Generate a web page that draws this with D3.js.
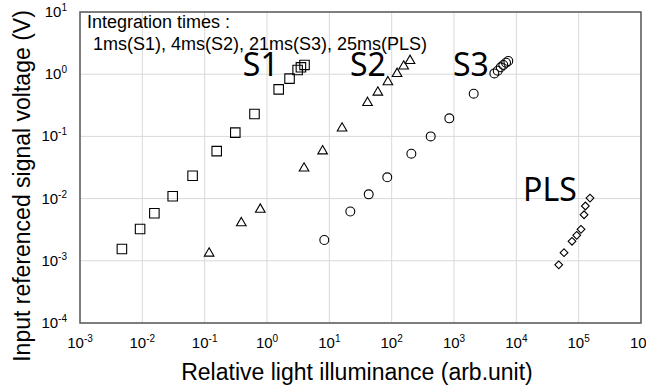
<!DOCTYPE html>
<html lang="en">
<head>
    <meta charset="utf-8">
    <title>Input referenced signal voltage vs illuminance</title>
    <script src="https://d3js.org/d3.v7.min.js"></script>
    <style>
        body { margin: 0; background: #fff; }
        text { font-family: "Liberation Sans", Arial, sans-serif; fill: #000; }
        .grid line { stroke: #d9d9d9; stroke-width: 1; }
        .frame { fill: none; stroke: #595959; stroke-width: 1.5; }
        .mark { fill: none; stroke: #000; stroke-width: 1.1; }
        .big { font-family: "Noto Sans", "Open Sans", sans-serif; font-size: 32px; }
    </style>
</head>
<body>
    <script>
        // illuminance (x) and signal voltage (y)
        var s1X = [0.0047, 0.0092, 0.0156, 0.0307, 0.064, 0.156, 0.31, 0.63, 1.54, 2.3, 3.1, 3.5, 4.0];
        var s1Y = [0.00155, 0.00324, 0.0058, 0.0109, 0.0233, 0.058, 0.115, 0.229, 0.57, 0.85, 1.17, 1.29, 1.41];

        var s2X = [0.118, 0.387, 0.78, 3.93, 7.8, 16, 41, 60, 87, 122, 156, 197];
        var s2Y = [0.00132, 0.00405, 0.0067, 0.0307, 0.058, 0.135, 0.348, 0.51, 0.75, 1.02, 1.34, 1.65];

        var s3X = [8.3, 21.7, 42.8, 85, 207, 423, 841, 2070, 4440, 5030, 5620, 6180, 6840, 7430];
        var s3Y = [0.00216, 0.0062, 0.0117, 0.022, 0.0527, 0.1, 0.195, 0.486, 1.03, 1.14, 1.29, 1.41, 1.53, 1.63];

        var plsX = [47900, 58200, 78200, 93100, 109000, 122000, 128000, 152000];
        var plsY = [0.00086, 0.00135, 0.00206, 0.00257, 0.00321, 0.0055, 0.0076, 0.0102];

        var xTicks = [1e-3, 1e-2, 1e-1, 1e0, 1e1, 1e2, 1e3, 1e4, 1e5, 1e6];
        var yTicks = [1e-4, 1e-3, 1e-2, 1e-1, 1e0, 1e1];

        var series = [
            { name: "S1", xs: s1X, ys: s1Y, symbol: d3.symbolSquare, size: 90, rot: 0, labelAt: [0.41, 0.935] },
            { name: "S2", xs: s2X, ys: s2Y, symbol: d3.symbolTriangle, size: 40, rot: 0, labelAt: [21.5, 0.935] },
            { name: "S3", xs: s3X, ys: s3Y, symbol: d3.symbolCircle, size: 62, rot: 0, labelAt: [964, 0.935] },
            { name: "PLS", xs: plsX, ys: plsY, symbol: d3.symbolSquare, size: 30, rot: 45, labelAt: [12800, 0.00915] }
        ];

        var w = 646, h = 387;
        var margin = { top: 12, right: 5, bottom: 64, left: 80 };

        var svg = d3.select("body").append("svg")
            .attr("width", w)
            .attr("height", h);

        var x = d3.scaleLog().domain([1e-3, 1e6]).range([margin.left, w - margin.right]);
        var y = d3.scaleLog().domain([1e-4, 1e1]).range([h - margin.bottom, margin.top]);

        // gridlines
        var grid = svg.append("g").attr("class", "grid");
        grid.selectAll(".gx").data(xTicks).enter().append("line")
            .attr("x1", function (d) { return x(d); })
            .attr("x2", function (d) { return x(d); })
            .attr("y1", y.range()[0])
            .attr("y2", y.range()[1]);
        grid.selectAll(".gy").data(yTicks).enter().append("line")
            .attr("x1", x.range()[0])
            .attr("x2", x.range()[1])
            .attr("y1", function (d) { return y(d); })
            .attr("y2", function (d) { return y(d); });

        svg.append("rect").attr("class", "frame")
            .attr("x", x.range()[0])
            .attr("y", y.range()[1])
            .attr("width", x.range()[1] - x.range()[0])
            .attr("height", y.range()[0] - y.range()[1]);

        function powLabel(sel) {
            sel.each(function (d) {
                var t = d3.select(this);
                t.append("tspan").text("10");
                t.append("tspan")
                    .attr("dy", -6)
                    .style("font-size", "10px")
                    .text(Math.round(Math.log10(d)));
            });
        }

        // x axis tick labels
        svg.append("g").selectAll("text").data(xTicks).enter().append("text")
            .attr("x", function (d) { return x(d); })
            .attr("y", h - margin.bottom + 25)
            .attr("text-anchor", "middle")
            .style("font-size", "15px")
            .call(powLabel);

        // y axis tick labels
        svg.append("g").selectAll("text").data(yTicks).enter().append("text")
            .attr("x", margin.left - 13)
            .attr("y", function (d) { return y(d) + 5; })
            .attr("text-anchor", "end")
            .style("font-size", "15px")
            .call(powLabel);

        // markers
        series.forEach(function (s) {
            var sym = d3.symbol().type(s.symbol).size(s.size);
            svg.append("g").selectAll("path")
                .data(s.xs.map(function (v, i) { return [v, s.ys[i]]; }))
                .enter().append("path")
                .attr("class", "mark")
                .attr("d", sym)
                .attr("transform", function (d) {
                    return "translate(" + x(d[0]) + "," + y(d[1]) + ") rotate(" + s.rot + ")";
                });

            svg.append("text").attr("class", "big")
                .attr("x", x(s.labelAt[0]))
                .attr("y", y(s.labelAt[1]))
                .text(s.name);
        });

        // note
        svg.append("text")
            .attr("x", 87).attr("y", 28)
            .style("font-size", "18px")
            .text("Integration times :");
        svg.append("text")
            .attr("x", 93).attr("y", 50)
            .style("font-size", "18px")
            .text("1ms(S1), 4ms(S2), 21ms(S3), 25ms(PLS)");

        // axis titles
        svg.append("text")
            .attr("x", 357)
            .attr("y", h - 7)
            .attr("text-anchor", "middle")
            .style("font-size", "23px")
            .text("Relative light illuminance (arb.unit)");

        svg.append("text")
            .attr("transform", "translate(30," + 186 + ") rotate(-90)")
            .attr("text-anchor", "middle")
            .style("font-size", "23px")
            .text("Input referenced signal voltage (V)");
    </script>
</body>
</html>
